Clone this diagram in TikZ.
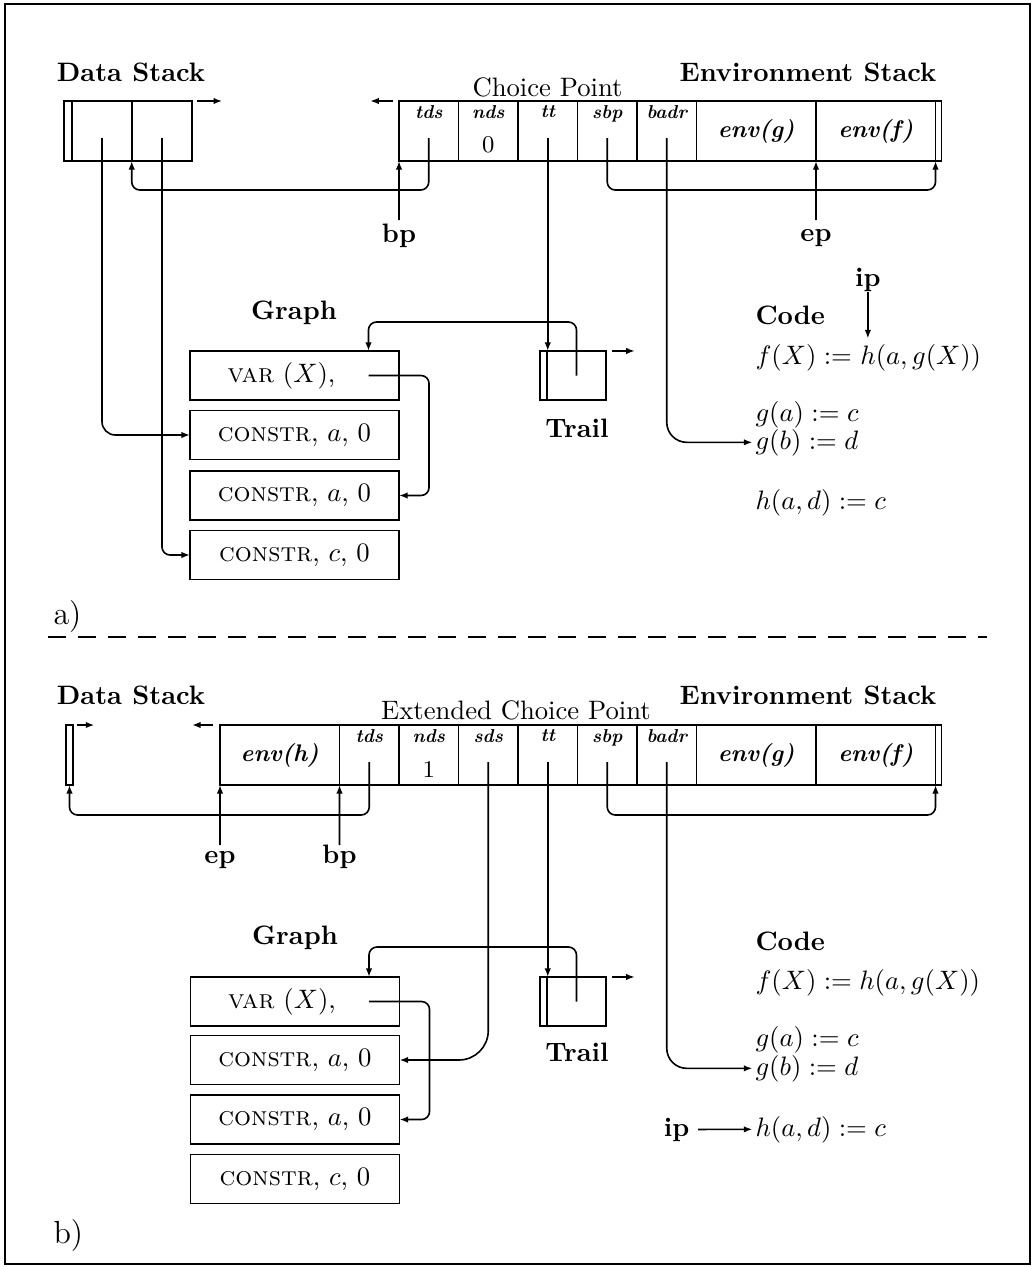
\documentclass[tikz,border=0pt]{standalone}
\usetikzlibrary{arrows.meta,calc}
\begin{document}
\begin{tikzpicture}[x=0.375pt,y=-0.375pt,
  cellbox/.style={draw, line width=0.7pt, inner sep=0pt, outer sep=0pt, minimum height=22.5pt},
  scell/.style={cellbox, minimum width=22.3pt},
  ecell/.style={cellbox, minimum width=44.8pt, font=\small\bfseries\itshape},
  gbox/.style={draw, line width=0.7pt, inner sep=0pt, outer sep=0pt, minimum width=78.4pt, minimum height=18.4pt},
  tbox/.style={draw, line width=0.7pt, inner sep=0pt, outer sep=0pt, minimum height=18.4pt},
  ptr/.style={line width=0.6pt, -{Latex[length=3.2pt,width=2.4pt]}, rounded corners=3pt},
  fld/.style={font=\scriptsize\bfseries\itshape, anchor=north, inner sep=0pt},
  ttl/.style={font=\bfseries, inner sep=0pt},
  codeline/.style={inner sep=0pt, anchor=base west},
]
\useasboundingbox (0,0) rectangle (1034,1267);
\draw[line width=0.8pt] (5,4) rectangle (1030,1264);

% ================= Part a =================
\node[ttl] (dslA) at (131,72) {Data Stack};
\node[ttl] (eslA) at (808,72) {Environment Stack};
\node[inner sep=0pt] (cplA) at (547.5,87) {Choice Point};

\node[cellbox, minimum width=3pt] (ds0A) at (68,131) {};
\node[scell] (ds1A) at (102,131) {};
\node[scell] (ds2A) at (162,131) {};

\node[scell] (tdsA) at (428.75,131) {};
\node[scell] (ndsA) at (488.25,131) {};
\node[scell] (ttA) at (547.75,131) {};
\node[scell] (sbpA) at (607.25,131) {};
\node[scell] (badrA) at (666.75,131) {};
\node[ecell] (envgA) at (756.25,131) {env(g)};
\node[ecell] (envfA) at (875.75,131) {env(f)};
\node[cellbox, minimum width=2.25pt] (endA) at (938.5,131) {};

\node[fld] at ([yshift=-1.5pt]tdsA.north) {tds};
\node[fld] at ([yshift=-1.5pt]ndsA.north) {nds};
\node[fld] at ([yshift=-1.5pt]ttA.north) {tt};
\node[fld] at ([yshift=-1.5pt]sbpA.north) {sbp};
\node[fld] at ([yshift=-1.5pt]badrA.north) {badr};
\node[font=\small, inner sep=0pt] at ($(ndsA.center)+(0,14)$) {0};

\draw[ptr] ([xshift=2pt]ds2A.north east) -- ++(9.4pt,0);
\draw[ptr] ([xshift=-2.2pt]tdsA.north west) -- ++(-8.6pt,0);

\coordinate (lyA) at (0,190);
\coordinate (ptdsA) at ($(tdsA.center)+(0,7)$);
\coordinate (psbpA) at ($(sbpA.center)+(0,7)$);
\coordinate (pttA) at ($(ttA.center)+(0,7)$);
\coordinate (pbadrA) at ($(badrA.center)+(0,7)$);
\coordinate (pds1A) at ($(ds1A.center)+(0,7)$);
\coordinate (pds2A) at ($(ds2A.center)+(0,7)$);

\draw[ptr] (ptdsA) -- (ptdsA |- lyA) -- (ds1A.south east |- lyA) -- (ds1A.south east);
\draw[ptr] (psbpA) -- (psbpA |- lyA) -- (endA.south west |- lyA) -- (endA.south west);

\node[ttl, anchor=base] (bpA) at (399,242) {bp};
\draw[ptr] ($(bpA.base)+(0,-22)$) -- (tdsA.south west);
\node[ttl, anchor=base] (epA) at (816,241) {ep};
\draw[ptr] ($(epA.base)+(0,-21)$) -- (envgA.south east);

% graph a
\node[ttl] (grlA) at (294,313) {Graph};
\node[gbox] (varA) at (294.5,375.5) {};
\node[inner sep=0pt] at ($(varA.center)+(-13,0)$) {\textsc{var} $(X)$,};
\node[gbox] (c1A) at (294.5,435) {\textsc{constr}, $a$, 0};
\node[gbox] (c2A) at (294.5,495.5) {\textsc{constr}, $a$, 0};
\node[gbox] (c3A) at (294.5,555) {\textsc{constr}, $c$, 0};

% trail a
\node[tbox, minimum width=2.6pt] (tr0A) at (543.5,375.5) {};
\node[tbox, minimum width=22.1pt] (trA) at (576.5,375.5) {};
\node[ttl] (trlA) at (577,428) {Trail};
\draw[ptr] ([xshift=2.2pt]trA.north east) -- ++(8.6pt,0);

\draw[ptr] (pttA) -- (pttA |- trA.north);
\draw[ptr, rounded corners=5pt] (pds1A) |- (c1A.west);
\draw[ptr] (pds2A) |- (c3A.west);

\coordinate (vpA) at ($(varA.center)+(74,0)$);
\coordinate (tyA) at (0,322);
\draw[ptr] (trA.center) -- (trA.center |- tyA) -- (vpA |- tyA) -- (vpA |- varA.north);
\draw[ptr] (vpA) -| ($(c2A.east)+(30,0)$) -- (c2A.east);

% code a
\node[ttl, anchor=base west] (codeA) at (755,324) {Code};
\node[codeline] (fxA) at (755,364) {$f(X) :={}$};
\node[codeline] (hgA) at (fxA.base east) {$h(a,g(X))$};
\node[codeline] (gaA) at (755,421) {$g(a) := c$};
\node[codeline] (gbA) at (755,449) {$g(b) := d$};
\node[codeline] (hdA) at (755,509) {$h(a,d) := c$};
\draw[ptr, rounded corners=7.5pt] (pbadrA) |- ([xshift=-1pt]gbA.west);

\coordinate (hA) at ($(hgA.north west)+(8,-5)$);
\coordinate (ipyA) at (0,286);
\node[ttl, anchor=base] (ipA) at (hA |- ipyA) {ip};
\draw[ptr] (ipA) -- (hA);

\node[anchor=west, font=\large, inner sep=0pt] (labA) at (53,617) {a)};

% separator
\draw[line width=0.8pt, dash pattern=on 6.75pt off 4.5pt] (48,637) -- (987,637);

% ================= Part b =================
\node[ttl] (dslB) at (131,695) {Data Stack};
\node[ttl] (eslB) at (808,695) {Environment Stack};
\node[inner sep=0pt] (cplB) at (516,710) {Extended Choice Point};

\node[cellbox, minimum width=2.6pt] (ds0B) at (69.5,755) {};

\node[ecell] (envhB) at (279.75,755) {env(h)};
\node[scell] (tdsB) at (369.25,755) {};
\node[scell] (ndsB) at (428.75,755) {};
\node[scell] (sdsB) at (488.25,755) {};
\node[scell] (ttB) at (547.75,755) {};
\node[scell] (sbpB) at (607.25,755) {};
\node[scell] (badrB) at (666.75,755) {};
\node[ecell] (envgB) at (756.25,755) {env(g)};
\node[ecell] (envfB) at (875.75,755) {env(f)};
\node[cellbox, minimum width=2.25pt] (endB) at (938.5,755) {};

\node[fld] at ([yshift=-1.5pt]tdsB.north) {tds};
\node[fld] at ([yshift=-1.5pt]ndsB.north) {nds};
\node[fld] at ([yshift=-1.5pt]sdsB.north) {sds};
\node[fld] at ([yshift=-1.5pt]ttB.north) {tt};
\node[fld] at ([yshift=-1.5pt]sbpB.north) {sbp};
\node[fld] at ([yshift=-1.5pt]badrB.north) {badr};
\node[font=\small, inner sep=0pt] at ($(ndsB.center)+(0,14)$) {1};

\draw[ptr] ([xshift=1.5pt]ds0B.north east) -- ++(6.5pt,0);
\draw[ptr] ([xshift=-2.6pt]envhB.north west) -- ++(-7.9pt,0);

\coordinate (lyB) at (0,815);
\coordinate (ptdsB) at ($(tdsB.center)+(0,7)$);
\coordinate (psdsB) at ($(sdsB.center)+(0,7)$);
\coordinate (psbpB) at ($(sbpB.center)+(0,7)$);
\coordinate (pttB) at ($(ttB.center)+(0,7)$);
\coordinate (pbadrB) at ($(badrB.center)+(0,7)$);

\draw[ptr] (ptdsB) -- (ptdsB |- lyB) -- (ds0B.south |- lyB) -- (ds0B.south);
\draw[ptr] (psbpB) -- (psbpB |- lyB) -- (endB.south west |- lyB) -- (endB.south west);

\node[ttl, anchor=base] (epB) at (220,863) {ep};
\draw[ptr] ($(epB.base)+(0,-18)$) -- (envhB.south west);
\node[ttl, anchor=base] (bpB) at (339.5,863) {bp};
\draw[ptr] ($(bpB.base)+(0,-18)$) -- (tdsB.south west);

% graph b
\node[ttl] (grlB) at (295,938) {Graph};
\node[gbox] (varB) at (295,1001.5) {};
\node[inner sep=0pt] at ($(varB.center)+(-13,0)$) {\textsc{var} $(X)$,};
\node[gbox] (c1B) at (295,1060) {\textsc{constr}, $a$, 0};
\node[gbox] (c2B) at (295,1119.5) {\textsc{constr}, $a$, 0};
\node[gbox] (c3B) at (295,1179) {\textsc{constr}, $c$, 0};

% trail b
\node[tbox, minimum width=2.6pt] (tr0B) at (543.5,1001.5) {};
\node[tbox, minimum width=22.1pt] (trB) at (576.5,1001.5) {};
\node[ttl] (trlB) at (577,1052) {Trail};
\draw[ptr] ([xshift=2.2pt]trB.north east) -- ++(8.6pt,0);

\draw[ptr] (pttB) -- (pttB |- trB.north);
\draw[ptr, rounded corners=11pt] (psdsB) |- (c1B.east);

\coordinate (vpB) at ($(varB.center)+(74,0)$);
\coordinate (tyB) at (0,947);
\draw[ptr] (trB.center) -- (trB.center |- tyB) -- (vpB |- tyB) -- (vpB |- varB.north);
\draw[ptr] (vpB) -| ($(c2B.east)+(30,0)$) -- (c2B.east);

% code b
\node[ttl, anchor=base west] (codeB) at (755,950) {Code};
\node[codeline] (fxB) at (755,989) {$f(X) := h(a,g(X))$};
\node[codeline] (gaB) at (755,1046) {$g(a) := c$};
\node[codeline] (gbB) at (755,1075) {$g(b) := d$};
\node[codeline] (hdB) at (755,1136) {$h(a,d) := c$};
\draw[ptr, rounded corners=7.5pt] (pbadrB) |- ([xshift=-1pt]gbB.west);

\node[ttl, anchor=base east] (ipB) at (690,1136) {ip};
\draw[ptr] ([xshift=3pt]ipB.east) -- ([xshift=-1pt]hdB.west);

\node[anchor=west, font=\large, inner sep=0pt] (labB) at (53,1235) {b)};
\end{tikzpicture}
\end{document}
